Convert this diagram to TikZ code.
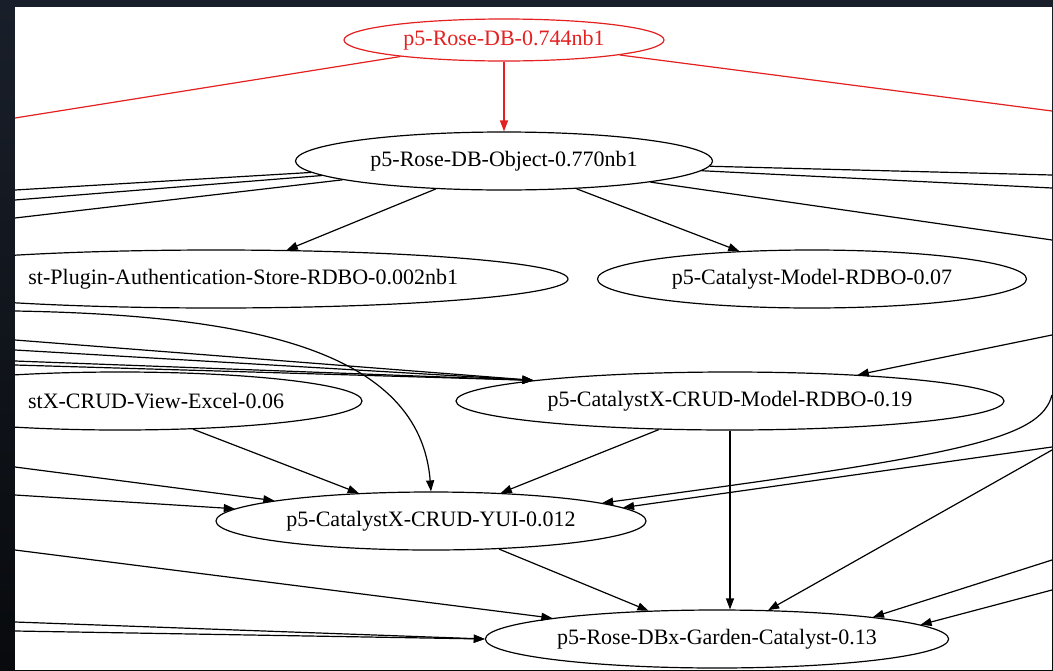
\documentclass[tikz,border=0pt]{standalone}
\usepackage{fontspec}
\setmainfont{Liberation Serif}
\usetikzlibrary{shapes.geometric,arrows.meta,positioning}

\definecolor{frametop}{RGB}{25,31,42}
\definecolor{framebot}{RGB}{8,10,13}
\definecolor{rootred}{RGB}{228,32,32}

\tikzstyle{pkg} = [ellipse, draw, line width=1.2pt, inner xsep=4pt, inner ysep=0pt,
  minimum height=58pt, font=\fontsize{22}{26}\selectfont]
\tikzstyle{rootpkg} = [pkg, draw=rootred, text=rootred, minimum height=42pt]
\tikzstyle{line} = [draw, line width=1.2pt, -{Triangle[length=11pt,width=8pt]}]
\tikzstyle{stub} = [draw, line width=1.2pt]
\tikzstyle{redline} = [line, draw=rootred]
\tikzstyle{redstub} = [stub, draw=rootred]

\begin{document}
\begin{tikzpicture}[x=1pt, y=-1pt]
    \useasboundingbox (0,0) rectangle (1053,670);
    \shade[top color=frametop, bottom color=framebot] (0,0) rectangle (1053,670);
    \fill[white] (15,7) rectangle (1052,670);
    \clip (15,7) rectangle (1052,670);

    \node[rootpkg, minimum width=320pt] (root) at (504,40) {p5-Rose-DB-0.744nb1};
    \node[pkg, below of=root, node distance=121pt, minimum width=417pt] (object) {p5-Rose-DB-Object-0.770nb1};

    \node[pkg, minimum width=429pt] (catmodel) at (812,279) {p5-Catalyst-Model-RDBO-0.07};
    \node[pkg, left of=catmodel, node distance=596pt, minimum width=704pt,
      text width=484pt, align=right] (authstore) {st-Plugin-Authentication-Store-RDBO-0.002nb1};

    \node[pkg, minimum width=548pt] (crudmodel) at (730,401) {p5-CatalystX-CRUD-Model-RDBO-0.19};
    \node[pkg, left of=crudmodel, node distance=610pt, minimum width=484pt,
      text width=328pt, align=right] (excel) {stX-CRUD-View-Excel-0.06};

    \node[pkg, minimum width=430pt] (yui) at (431,521) {p5-CatalystX-CRUD-YUI-0.012};
    \node[pkg, minimum width=460pt] (garden) at (717,639) {p5-Rose-DBx-Garden-Catalyst-0.13};

    % edges leaving the visible part
    \coordinate (rootl) at (15,118);
    \coordinate (rootr) at (1052,111);
    \path[redline] (root) -- (object);
    \path[redstub] (root) -- (rootl);
    \path[redstub] (root) -- (rootr);

    \path[line] (object) -- (authstore);
    \path[line] (object) -- (catmodel);
    \foreach \y [count=\i] in {190,200,218} {
      \coordinate (objl\i) at (15,\y);
      \path[stub] (object) -- (objl\i);
    }
    \foreach \y [count=\i] in {175,188,240} {
      \coordinate (objr\i) at (1052,\y);
      \path[stub] (object) -- (objr\i);
    }

    % into crudmodel
    \foreach \y [count=\i] in {340,350,361,365} {
      \coordinate (crudl\i) at (15,\y);
      \path[line] (crudl\i) -- (crudmodel.174);
    }
    \coordinate (crudr) at (1052,335);
    \path[line] (crudr) -- (crudmodel);

    % into yui
    \path[line] (excel) -- (yui);
    \path[line] (crudmodel) -- (yui);
    \coordinate (yuil1) at (15,311);
    \coordinate (yuil2) at (15,467);
    \coordinate (yuil3) at (15,495);
    \coordinate (yuir1) at (1052,395);
    \coordinate (yuir2) at (1052,447);
    \path[line] (yuil1) .. controls (250,315) and (420,350) .. (yui.north);
    \path[line] (yuil2) -- (yui);
    \path[line] (yuil3) -- (yui);
    \path[line] (yuir1) .. controls (1040,440) and (960,455) .. (yui.6);
    \path[line] (yuir2) -- (yui.4);

    % into garden
    \path[line] (yui) -- (garden);
    \path[line] (crudmodel.south) -- (crudmodel.south |- garden.north);
    \coordinate (gardr1) at (1052,450);
    \coordinate (gardr2) at (1052,560);
    \coordinate (gardr3) at (1052,590);
    \coordinate (gardl1) at (15,550);
    \coordinate (gardl2) at (15,622);
    \coordinate (gardl3) at (15,631);
    \path[line] (gardr1) -- (garden);
    \path[line] (gardr2) -- (garden.8);
    \path[line] (gardr3) -- (garden.4);
    \path[line] (gardl1) -- (garden);
    \path[line] (gardl2) -- (garden.west);
    \path[line] (gardl3) -- (garden.west);
\end{tikzpicture}
\end{document}
